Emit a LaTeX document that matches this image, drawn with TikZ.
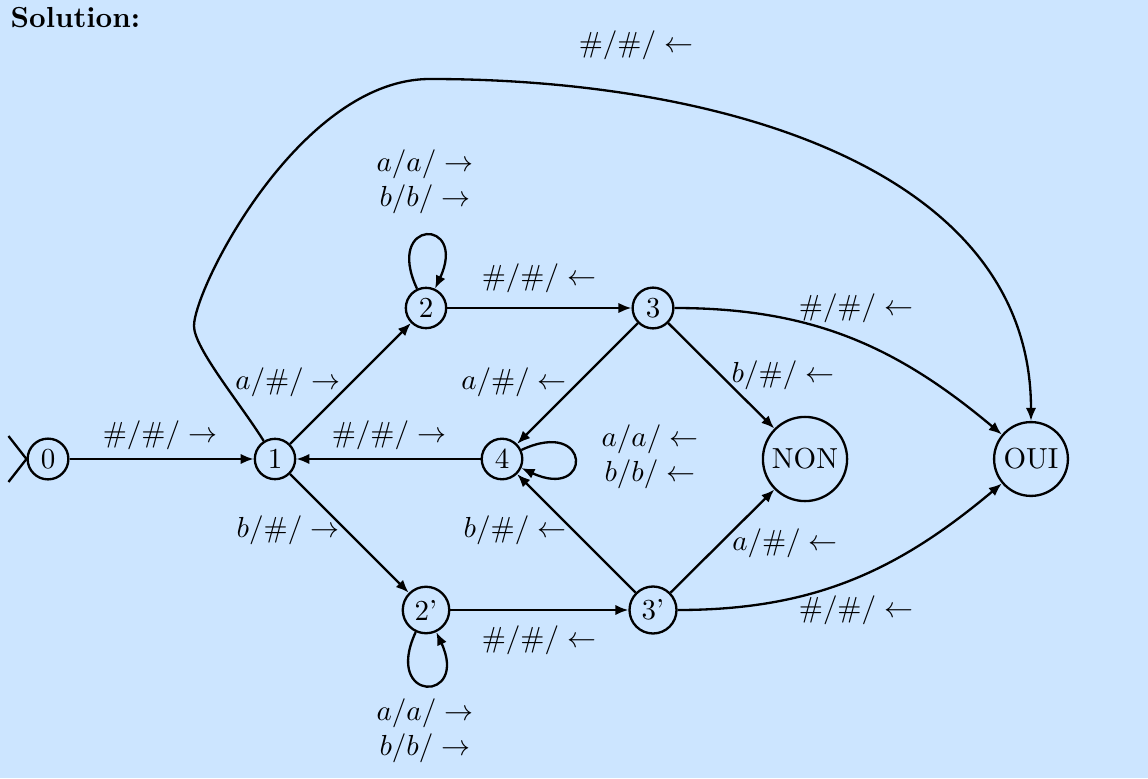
\documentclass[tikz,border=0pt]{standalone}
\usepackage{amsmath,amssymb}
\usepackage{xcolor}
\usetikzlibrary{arrows.meta}
\definecolor{solbg}{RGB}{204,229,255}

\begin{document}
\begin{tikzpicture}[
  x=0.345pt, y=0.345pt,
  state/.style={draw, circle, thick, inner sep=2pt},
  lbl/.style={align=center, inner sep=0pt},
  arrow/.style={-{Latex[length=4.5pt, width=3.6pt]}, thick},
  selfloop/.style={arrow, looseness=8, min distance=27pt},
]

% Background
\fill[solbg] (0,0) rectangle (1148,778);
\useasboundingbox (0,0) rectangle (1148,778);
\node[anchor=base west, inner sep=0pt] (title) at (10,750) {\textbf{Solution:}};

% States
\node[state] (q0) at (48,319) {0};
\node[state] (q1) at (275,319) {1};
\node[state] (q2) at (426,470) {2};
\node[state] (q2b) at (426,168) {2'};
\node[state] (q3) at (653,470) {3};
\node[state] (q3b) at (653,168) {3'};
\node[state] (q4) at (502,319) {4};
\node[state] (non) at (805,319) {NON};
\node[state] (oui) at (1031,319) {OUI};

% Initial marker
\draw[thick] (q0.west) -- ++(-18,23) (q0.west) -- ++(-18,-23);

% Coordinates for the long edge
\coordinate (bendA) at (194,452);
\coordinate (bendB) at (430,699);

% Transitions
\draw[arrow] (q0) -- (q1);
\draw[arrow] (q1) -- (q2);
\draw[arrow] (q1) -- (q2b);
\draw[arrow] (q2) -- (q3);
\draw[arrow] (q2b) -- (q3b);
\draw[arrow] (q3) -- (q4);
\draw[arrow] (q3b) -- (q4);
\draw[arrow] (q4) -- (q1);
\draw[arrow] (q3) -- (non);
\draw[arrow] (q3b) -- (non);
\draw[arrow] (q3) to[out=0, in=140] (oui);
\draw[arrow] (q3b) to[out=0, in=-140] (oui);
\draw[arrow] (q1) .. controls (240,375) and (194,430) .. (bendA)
  .. controls +(0,38) and +(-130,0) .. (bendB)
  .. controls +(290,0) and +(0,291) .. (oui);

% Loops
\draw[selfloop] (q2) to[out=115, in=65] (q2);
\draw[selfloop] (q2b) to[out=-115, in=-65] (q2b);
\draw[selfloop] (q4) to[out=25, in=-25] (q4);

% Labels
\node[lbl] (l01) at (160,343) {$\#/\#/\rightarrow$};
\node[lbl] (l12) at (288,396) {$a/\#/\rightarrow$};
\node[lbl] (l12b) at (288,248) {$b/\#/\rightarrow$};
\node[lbl] (l22) at (425,596) {$a/a/\rightarrow$ \\ $b/b/\rightarrow$};
\node[lbl] (l2b2b) at (425,47) {$a/a/\rightarrow$ \\ $b/b/\rightarrow$};
\node[lbl] (l23) at (539,500) {$\#/\#/\leftarrow$};
\node[lbl] (l2b3b) at (539,138) {$\#/\#/\leftarrow$};
\node[lbl] (l34) at (514,396) {$a/\#/\leftarrow$};
\node[lbl] (l3b4) at (515,248) {$b/\#/\leftarrow$};
\node[lbl] (l41) at (389,343) {$\#/\#/\rightarrow$};
\node[lbl] (l44) at (650,321) {$a/a/\leftarrow$ \\ $b/b/\leftarrow$};
\node[lbl] (l3non) at (783,403) {$b/\#/\leftarrow$};
\node[lbl] (l3bnon) at (785,235) {$a/\#/\leftarrow$};
\node[lbl] (l3oui) at (856,470) {$\#/\#/\leftarrow$};
\node[lbl] (l3boui) at (856,168) {$\#/\#/\leftarrow$};
\node[lbl] (l1oui) at (636,733) {$\#/\#/\leftarrow$};

\end{tikzpicture}
\end{document}
